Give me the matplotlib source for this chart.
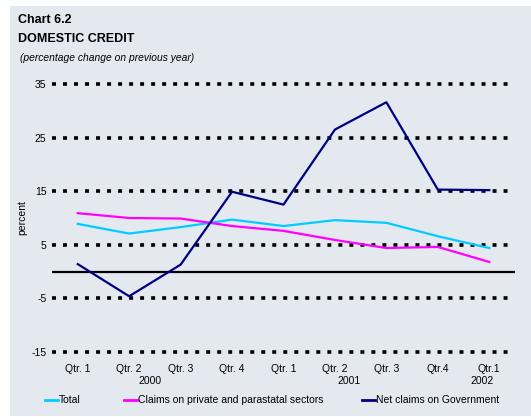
import numpy as np
import matplotlib.pyplot as plt
from matplotlib.patches import Rectangle
from matplotlib.lines import Line2D

plt.rcParams['font.family'] = ['Liberation Sans', 'DejaVu Sans']

quarters = ["Qtr. 1", "Qtr. 2", "Qtr. 3", "Qtr. 4", "Qtr. 1",
            "Qtr. 2", "Qtr. 3", "Qtr.4", "Qtr.1"]
years = ["2000", "2001", "2002"]
year_pos = [1.4, 5.27, 7.86]   # where the year labels sit on the category axis
total = [8.9, 7.1, 8.3, 9.7, 8.5, 9.6, 9.1, 6.6, 4.4]
private = [10.9, 10.0, 9.9, 8.5, 7.6, 5.9, 4.4, 4.6, 1.8]
government = [1.4, -4.6, 1.3, 14.9, 12.5, 26.5, 31.6, 15.3, 15.2]

bg = '#E4E8EF'
fig = plt.figure(figsize=(5.31, 4.17), dpi=100)
fig.patches.append(Rectangle((10/531, 0.002), 1, (417-7)/417, transform=fig.transFigure,
                             facecolor=bg, edgecolor='none', zorder=-10))

ax = fig.add_axes([52/531, (417-352)/417, 463/531, (352-84)/417])
ax.patch.set_alpha(0)
x = np.arange(len(quarters))

for yv in [35, 25, 15, 5, -5, -15]:
    ax.plot([-0.5, 8.45], [yv, yv], color='black', lw=2.6, clip_on=False,
            linestyle=(0, (1.1, 1.95)), dash_capstyle='butt', zorder=1)
ax.axhline(0, color='black', lw=1.6, zorder=2)

ax.plot(x, total, color='#00CCFF', lw=1.6, zorder=3)
ax.plot(x, private, color='#FF00FF', lw=1.6, zorder=3)
ax.plot(x, government, color='#000080', lw=1.6, zorder=3)

ax.set_xlim(-0.5, 8.5)
ax.set_ylim(-15, 35)
ax.set_yticks([35, 25, 15, 5, -5, -15])
ax.set_yticklabels(['35', '25', '15', '5', '-5', '-15'])
ax.set_xticks(x)
ax.set_xticklabels(quarters)
ax.tick_params(axis='both', length=0, labelsize=7.5, colors='black')
ax.tick_params(axis='y', pad=4)
ax.tick_params(axis='x', pad=9)
for s in ax.spines.values():
    s.set_visible(False)

# year line under the quarter labels
for yr, p in zip(years, year_pos):
    ax.text(p, -0.108, yr, fontsize=7.5, ha='center', va='center',
            transform=ax.get_xaxis_transform())
ax.set_ylabel('percent', fontsize=7.5)
ax.yaxis.set_label_coords(-0.054, 0.5)

fig.text(18/531, 1 - 20/417, 'Chart 6.2', fontsize=9, fontweight='bold', va='center')
fig.text(18/531, 1 - 39/417, 'DOMESTIC CREDIT', fontsize=9, fontweight='bold', va='center')
fig.text(20/531, 1 - 58/417, '(percentage change on previous year)', fontsize=7.4,
         style='italic', va='center')

colors = ['#00CCFF', '#FF00FF', '#000080']
labels = ['Total', 'Claims on private and parastatal sectors', 'Net claims on Government']
xs = [45, 124, 362]
for c, lab, xp in zip(colors, labels, xs):
    y = 1 - 400/417
    fig.lines.append(Line2D([xp/531, (xp + 13)/531], [y, y], color=c, lw=2,
                            transform=fig.transFigure))
    fig.text((xp + 14)/531, y, lab, fontsize=7.5, va='center')

fig.savefig('out.png', dpi=100)
